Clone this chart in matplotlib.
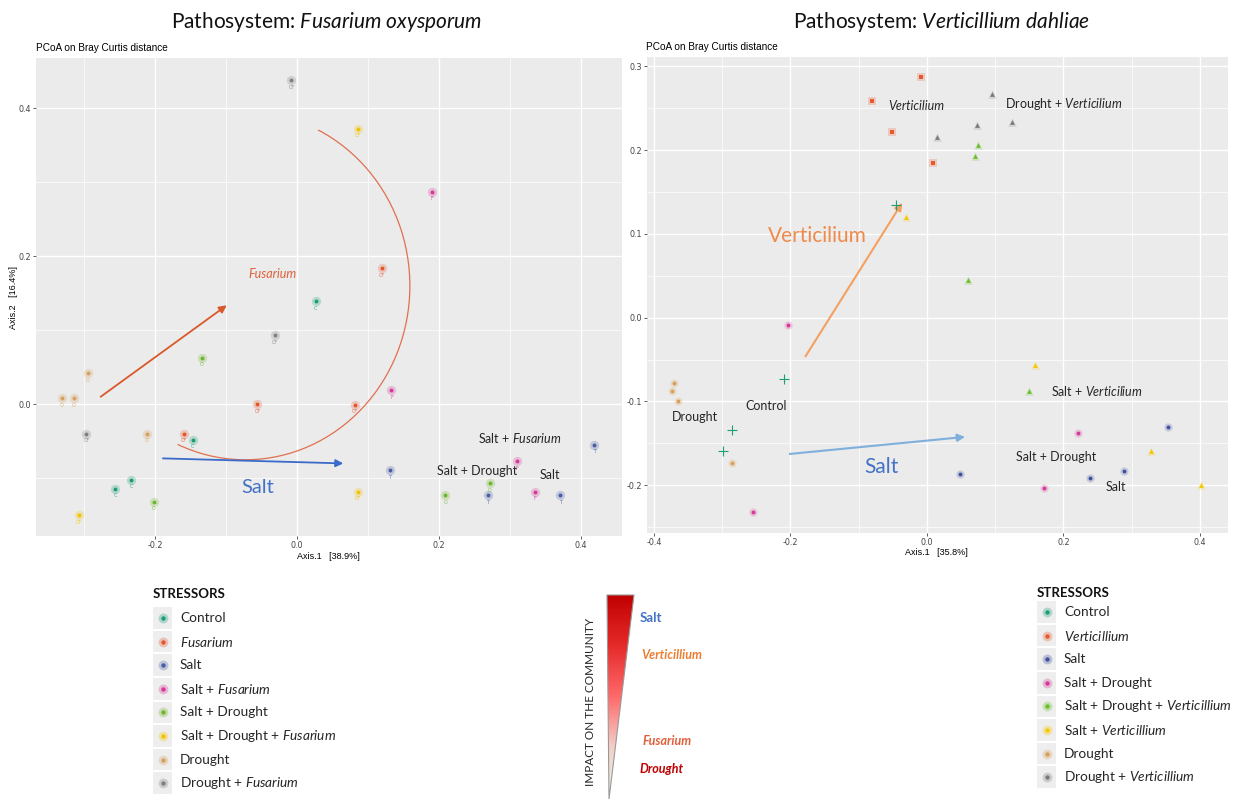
import matplotlib
matplotlib.use('Agg')
import numpy as np
import matplotlib.pyplot as plt
from matplotlib.patches import Arc, Rectangle, Polygon
from matplotlib.colors import LinearSegmentedColormap
from matplotlib.ticker import MultipleLocator, FormatStrFormatter

plt.rcParams['mathtext.fontset'] = 'custom'
plt.rcParams['mathtext.rm'] = 'Lato'
plt.rcParams['mathtext.it'] = 'Lato:italic'
plt.rcParams['mathtext.bf'] = 'Lato:bold'

CAL = ['Lato', 'DejaVu Sans']
ARI = ['Liberation Sans', 'DejaVu Sans']

# ---- Fusarium pathosystem (left) ----
fus_legend = ['Control', r'$\mathit{Fusarium}$', 'Salt', r'Salt + $\mathit{Fusarium}$',
              'Salt + Drought', r'Salt + Drought + $\mathit{Fusarium}$', 'Drought',
              r'Drought + $\mathit{Fusarium}$']
fus_colors = ['#1B9E77', '#E4572E', '#4A5DA6', '#D6399A', '#6DB52D', '#F2C300', '#D4A15E', '#808080']
fus_tags = ['C', 'CF', 'T', 'F', 'O', 'CF', 'O', 'CF']
fus_group = [0, 0, 0, 0, 1, 1, 1, 1, 2, 2, 2, 2, 3, 3, 3, 3, 4, 4, 4, 4,
             5, 5, 5, 6, 6, 6, 6, 7, 7, 7]
fus_pc1 = [0.026, -0.147, -0.234, -0.256, 0.12, -0.056, 0.081, -0.16,
           0.419, 0.131, 0.269, 0.371, 0.19, 0.133, 0.31, 0.335,
           -0.134, 0.272, 0.209, -0.202, 0.086, 0.086, -0.308,
           -0.295, -0.332, -0.315, -0.212, -0.008, -0.031, -0.297]
fus_pc2 = [0.139, -0.048, -0.102, -0.114, 0.184, 0.0, -0.001, -0.04,
           -0.055, -0.089, -0.123, -0.123, 0.287, 0.019, -0.077, -0.118,
           0.063, -0.107, -0.123, -0.132, 0.372, -0.118, -0.15,
           0.042, 0.008, 0.008, -0.04, 0.438, 0.093, -0.04]

# ---- Verticillium pathosystem (right) ----
ver_legend = ['Control', r'$\mathit{Verticillium}$', 'Salt', 'Salt + Drought',
              r'Salt + Drought + $\mathit{Verticillium}$', r'Salt + $\mathit{Verticillium}$',
              'Drought', r'Drought + $\mathit{Verticillium}$']
ver_colors = ['#1B9E77', '#E8582A', '#3F51A0', '#D6399A', '#6BBF2A', '#F5C800', '#D9A05B', '#7A7A7A']
ver_markers = ['+', 's', 'o', 'o', '^', '^', 'o', '^']
ver_group = [0, 0, 0, 0, 1, 1, 1, 1, 2, 2, 2, 2, 3, 3, 3, 3,
             4, 4, 4, 4, 5, 5, 5, 5, 6, 6, 6, 6, 7, 7, 7, 7]
ver_pc1 = [-0.045, -0.21, -0.285, -0.298, -0.008, -0.081, -0.051, 0.009,
           0.353, 0.288, 0.048, 0.239, -0.204, -0.255, 0.221, 0.171,
           0.075, 0.07, 0.06, 0.15, -0.031, 0.158, 0.328, 0.401,
           -0.371, -0.374, -0.364, -0.286, 0.095, 0.073, 0.015, 0.125]
ver_pc2 = [0.134, -0.073, -0.134, -0.159, 0.287, 0.259, 0.222, 0.185,
           -0.131, -0.183, -0.187, -0.191, -0.009, -0.232, -0.138, -0.203,
           0.206, 0.193, 0.045, -0.087, 0.12, -0.057, -0.159, -0.2,
           -0.078, -0.088, -0.099, -0.173, 0.267, 0.230, 0.216, 0.233]

impact_labels = ['Salt', 'Verticillium', 'Fusarium', 'Drought']
impact_colors = ['#4472C4', '#ED7D31', '#E0603A', '#C00000']

W, H = 1241, 805
fig = plt.figure(figsize=(W / 100, H / 100), dpi=100)


def px_axes(x0, y0, x1, y1):
    return fig.add_axes([x0 / W, 1 - y1 / H, (x1 - x0) / W, (y1 - y0) / H])


def gg_style(ax, xmaj, ymaj):
    ax.set_facecolor('#EBEBEB')
    for s in ax.spines.values():
        s.set_visible(False)
    ax.xaxis.set_major_locator(MultipleLocator(xmaj))
    ax.xaxis.set_minor_locator(MultipleLocator(xmaj / 2))
    ax.yaxis.set_major_locator(MultipleLocator(ymaj))
    ax.yaxis.set_minor_locator(MultipleLocator(ymaj / 2))
    ax.xaxis.set_major_formatter(FormatStrFormatter('%.1f'))
    ax.yaxis.set_major_formatter(FormatStrFormatter('%.1f'))
    ax.grid(which='major', color='white', lw=1.0)
    ax.grid(which='minor', color='white', lw=0.5)
    ax.set_axisbelow(True)
    ax.tick_params(which='major', length=2, width=0.6, color='#444444',
                   labelsize=5.8, labelcolor='#444444', pad=1.5)
    ax.tick_params(which='minor', length=0)


# ---------- left panel ----------
axl = px_axes(36, 58, 622, 536)
gg_style(axl, 0.2, 0.2)
axl.set_xlim(-0.368, 0.458)
axl.set_ylim(-0.178, 0.468)

for g, col in enumerate(fus_colors):
    xs = [x for x, k in zip(fus_pc1, fus_group) if k == g]
    ys = [y for y, k in zip(fus_pc2, fus_group) if k == g]
    axl.scatter(xs, ys, s=45, color=col, alpha=0.25, lw=0, zorder=3)
    axl.scatter(xs, ys, s=8, color=col, lw=0, zorder=4)
    for x, y in zip(xs, ys):
        axl.annotate(fus_tags[g], (x, y), xytext=(0, -5), textcoords='offset points',
                     ha='center', va='center', fontsize=3.5, color=col, alpha=0.8, zorder=4)

axl.annotate('', xy=(-0.096, 0.136), xytext=(-0.28, 0.008),
             arrowprops=dict(arrowstyle='-|>', color='#D9582A', lw=1.3, mutation_scale=11))
axl.annotate('', xy=(0.069, -0.080), xytext=(-0.193, -0.073),
             arrowprops=dict(arrowstyle='-|>', color='#3A6BC8', lw=1.3, mutation_scale=11))
axl.add_patch(Arc((-0.073, 0.16), 0.464, 0.47, theta1=-114, theta2=64,
                  color='#E07050', lw=0.9, zorder=2))
axl.text(-0.034, 0.176, 'Fusarium', fontsize=9, style='italic', color='#E0603A',
         ha='center', va='center', family=CAL)
axl.text(-0.056, -0.112, 'Salt', fontsize=14.5, color='#4472C4', ha='center', va='center', family=CAL)
axl.text(0.314, -0.045, r'Salt + $\mathit{Fusarium}$', fontsize=9, color='#262626',
         ha='center', va='center', family=CAL)
axl.text(0.254, -0.090, 'Salt + Drought', fontsize=9, color='#262626',
         ha='center', va='center', family=CAL)
axl.text(0.356, -0.096, 'Salt', fontsize=9, color='#262626', ha='center', va='center', family=CAL)

# ---------- right panel ----------
axr = px_axes(647, 57, 1228, 533)
gg_style(axr, 0.2, 0.1)
axr.set_xlim(-0.41, 0.441)
axr.set_ylim(-0.257, 0.311)

for g, col in enumerate(ver_colors):
    xs = [x for x, k in zip(ver_pc1, ver_group) if k == g]
    ys = [y for y, k in zip(ver_pc2, ver_group) if k == g]
    m = ver_markers[g]
    if m == '+':
        axr.scatter(xs, ys, s=45, marker='+', color=col, lw=0.8, zorder=4)
    elif m == 's':
        axr.scatter(xs, ys, s=32, marker='s', color=col, alpha=0.22, lw=0, zorder=3)
        axr.scatter(xs, ys, s=9, marker='s', color=col, lw=0, zorder=4)
    elif m == '^':
        axr.scatter(xs, ys, s=40, marker='^', color=col, alpha=0.2, lw=0, zorder=3)
        axr.scatter(xs, ys, s=12, marker='^', color=col, lw=0, zorder=4)
    else:
        axr.scatter(xs, ys, s=35, color=col, alpha=0.22, lw=0, zorder=3)
        axr.scatter(xs, ys, s=8, color=col, lw=0, zorder=4)

axr.annotate('', xy=(-0.034, 0.140), xytext=(-0.18, -0.049),
             arrowprops=dict(arrowstyle='-|>', color='#F4A060', lw=1.5, mutation_scale=11))
axr.annotate('', xy=(0.06, -0.142), xytext=(-0.205, -0.163),
             arrowprops=dict(arrowstyle='-|>', color='#7FB0DC', lw=1.5, mutation_scale=11))
axr.text(-0.16, 0.097, 'Verticilium', fontsize=15, color='#F08A4B', ha='center', va='center', family=CAL)
axr.text(-0.066, -0.178, 'Salt', fontsize=15, color='#4472C4', ha='center', va='center', family=CAL)
axr.text(-0.016, 0.253, 'Verticilium', fontsize=9, style='italic', color='#262626',
         ha='center', va='center', family=CAL)
axr.text(0.2, 0.255, r'Drought + $\mathit{Verticilium}$', fontsize=9, color='#262626',
         ha='center', va='center', family=CAL)
axr.text(0.249, -0.087, r'Salt + $\mathit{Verticilium}$', fontsize=9, color='#262626',
         ha='center', va='center', family=CAL)
axr.text(-0.236, -0.106, 'Control', fontsize=9, color='#262626', ha='center', va='center', family=CAL)
axr.text(-0.34, -0.119, 'Drought', fontsize=9, color='#262626', ha='center', va='center', family=CAL)
axr.text(0.189, -0.166, 'Salt + Drought', fontsize=9, color='#262626', ha='center', va='center', family=CAL)
axr.text(0.277, -0.202, 'Salt', fontsize=9, color='#262626', ha='center', va='center', family=CAL)

# ---------- overlay for titles, legends, triangle ----------
ov = fig.add_axes([0, 0, 1, 1], zorder=-1)
ov.set_xlim(0, W)
ov.set_ylim(H, 0)
ov.axis('off')

ov.text(327, 22, r'Pathosystem: $\mathit{Fusarium\ oxysporum}$', fontsize=15, family=CAL,
        ha='center', va='center', color='#111111')
ov.text(941, 22, r'Pathosystem: $\mathit{Verticillium\ dahliae}$', fontsize=15, family=CAL,
        ha='center', va='center', color='#111111')
for x, y in [(36, 48), (646, 47)]:
    ov.text(x, y, 'PCoA on Bray Curtis distance', fontsize=7.2, family=ARI, ha='left', va='center')
ov.text(328, 556, 'Axis.1   [38.9%]', fontsize=6.5, family=ARI, ha='center', va='center')
ov.text(936, 552, 'Axis.1   [35.8%]', fontsize=6.5, family=ARI, ha='center', va='center')
ov.text(13, 297, 'Axis.2   [16.4%]', fontsize=6.5, family=ARI, ha='center', va='center', rotation=90)


def legend_block(x0, y_title, y_first, step, labels, colors):
    ov.text(x0, y_title, 'STRESSORS', fontsize=9.5, weight='bold', family=CAL,
            ha='left', va='center', color='#111111')
    for i, (lab, col) in enumerate(zip(labels, colors)):
        y = y_first + i * step
        ov.add_patch(Rectangle((x0, y - step / 2 + 1), 19, step - 2, color='#EEEEEE', lw=0))
        ov.scatter([x0 + 9.5], [y], s=50, color=col, alpha=0.3, lw=0)
        ov.scatter([x0 + 9.5], [y], s=10, color=col, lw=0)
        ov.text(x0 + 27, y, lab, fontsize=9.8, family=CAL, ha='left', va='center', color='#262626')


legend_block(153, 594, 618, 23.6, fus_legend, fus_colors)
legend_block(1037, 593, 612, 23.6, ver_legend, ver_colors)

# impact triangle
tri = Polygon([[607, 595], [634, 595], [609, 799]], closed=True, fc='none',
              ec='#999999', lw=0.8, zorder=3)
ov.add_patch(tri)
cmap = LinearSegmentedColormap.from_list('impact', ['#EEF7EA', '#F3D0C8', '#FF6A6A', '#E52A2A', '#C00000'])
grad = np.linspace(1, 0, 256)[:, None]
im = ov.imshow(grad, cmap=cmap, extent=(607, 634, 799, 595), origin='upper',
               aspect='auto', zorder=2)
im.set_clip_path(tri)
ov.set_xlim(0, W)
ov.set_ylim(H, 0)
ov.text(590, 702, 'IMPACT ON THE COMMUNITY', fontsize=8.5, family=CAL, rotation=90,
        ha='center', va='center', color='#262626')
for lab, col, x, y in zip(impact_labels, impact_colors, [640, 641, 643, 640], [618, 655, 741, 769]):
    ov.text(x, y, lab, fontsize=9.5 if lab == 'Salt' else 9, weight='bold',
            style='normal' if lab == 'Salt' else 'italic',
            family=CAL, color=col, ha='left', va='center')

fig.savefig('out.png', dpi=100)
